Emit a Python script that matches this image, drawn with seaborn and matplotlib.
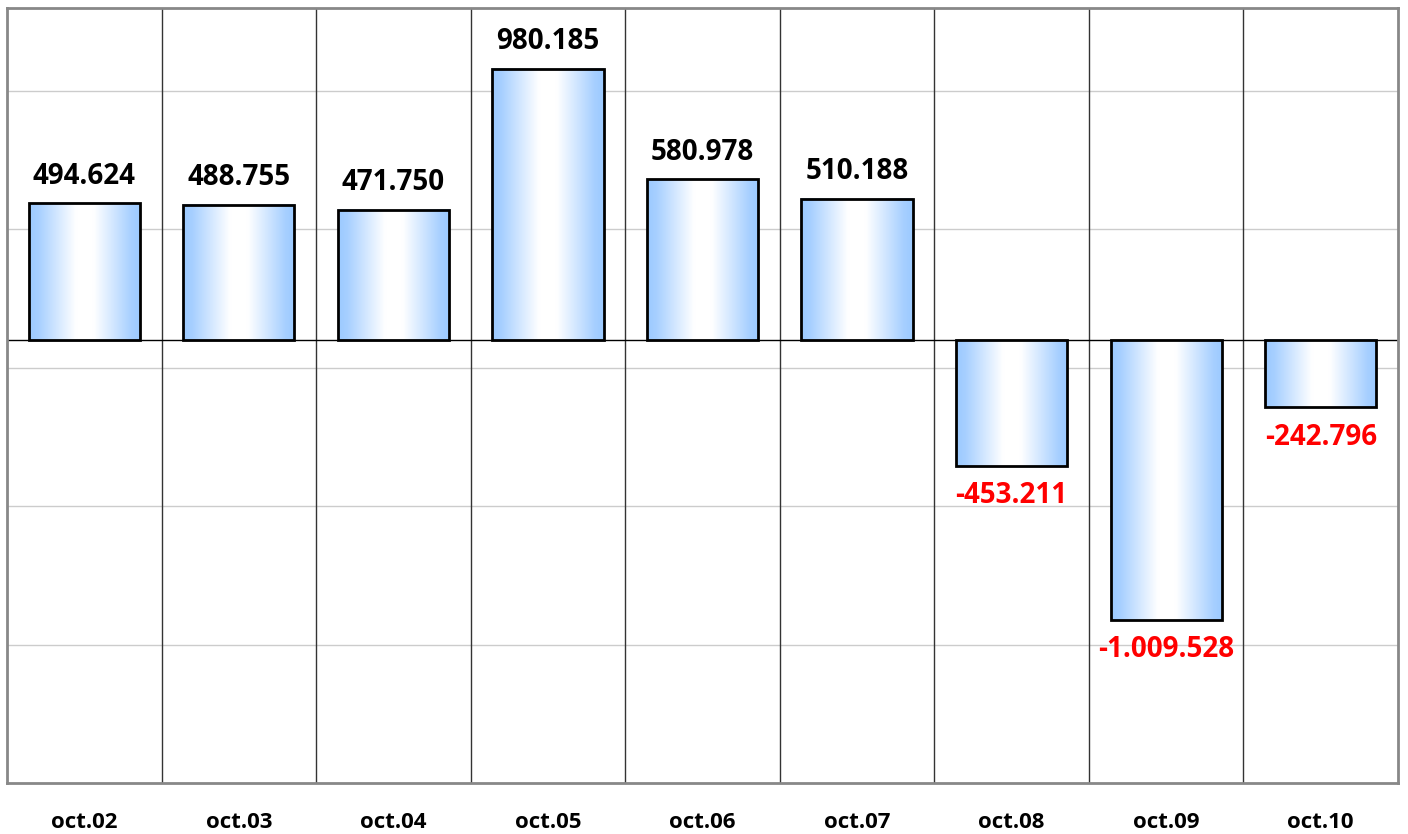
import numpy as np
import pandas as pd
import seaborn as sns
import matplotlib.pyplot as plt
from matplotlib.colors import LinearSegmentedColormap

categories = ["oct.02", "oct.03", "oct.04", "oct.05", "oct.06", "oct.07", "oct.08", "oct.09", "oct.10"]
values = [494624, 488755, 471750, 980185, 580978, 510188, -453211, -1009528, -242796]
value_labels = ["494.624", "488.755", "471.750", "980.185", "580.978", "510.188", "-453.211", "-1.009.528", "-242.796"]
grid_values = [-1100000, -600000, -100000, 400000, 900000]

sns.set_theme(style="white")
plt.rcParams['font.family'] = ['Open Sans', 'DejaVu Sans']

fig = plt.figure(figsize=(14.08, 8.34), dpi=100)
ax = fig.add_axes([7/1408, 1 - 783/834, (1398 - 7)/1408, (783 - 8)/834])

df = pd.DataFrame({"cat": categories, "val": values})
sns.barplot(data=df, x="cat", y="val", order=categories, width=0.72, color="white",
            edgecolor="black", linewidth=2, ax=ax, zorder=4, saturation=1)

cmap = LinearSegmentedColormap.from_list(
    "g", [(0, "#9ccaff"), (0.08, "#a6cfff"), (0.42, "#ffffff"), (0.58, "#ffffff"),
          (0.92, "#a6cfff"), (1, "#9ccaff")])
grad = np.linspace(0, 1, 256).reshape(1, -1)
for p in list(ax.patches):
    x0, y0 = p.get_x(), p.get_y()
    w, h = p.get_width(), p.get_height()
    ax.imshow(grad, cmap=cmap, extent=[x0, x0 + w, min(y0, y0 + h), max(y0, y0 + h)],
              aspect='auto', zorder=3.5, interpolation='bicubic')
    p.set_facecolor('none')
    p.set_zorder(4)

ax.set_xlim(-0.5, len(categories) - 0.5)
ax.set_ylim(-1600000, 1200000)

ax.set_yticks(grid_values)
ax.yaxis.grid(True, color="#cccccc", lw=1, zorder=0)
ax.tick_params(axis='y', left=False, labelleft=False)
ax.set_axisbelow(True)

for i in range(len(categories) - 1):
    ax.axvline(i + 0.5, color="#333333", lw=1, zorder=1)
ax.axhline(0, color="black", lw=1, zorder=2)

ax.set_xlabel("")
ax.set_ylabel("")
ax.tick_params(axis='x', bottom=False, pad=15, labelsize=16)
for t in ax.get_xticklabels():
    t.set_fontweight("bold")
    t.set_color("black")

for s in ax.spines.values():
    s.set_color("#888888")
    s.set_linewidth(2)

for i, (v, lab) in enumerate(zip(values, value_labels)):
    if v >= 0:
        ax.annotate(lab, (i, v), xytext=(0, 9), textcoords="offset points",
                    ha="center", va="bottom", fontsize=20, fontweight="bold", color="black")
    else:
        ax.annotate(lab, (i, v), xytext=(0, -11), textcoords="offset points",
                    ha="center", va="top", fontsize=20, fontweight="bold", color="#ff0000")

fig.savefig("out.png", dpi=100)
